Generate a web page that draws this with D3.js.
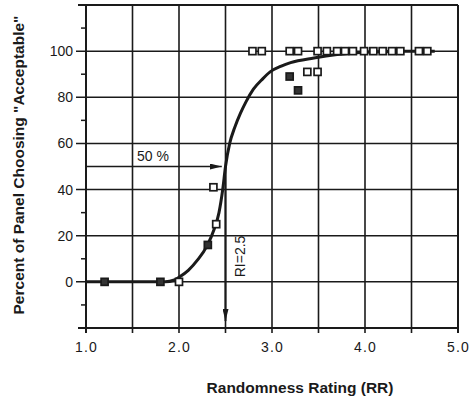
<!DOCTYPE html>
<html><head><meta charset="utf-8">
<script src="https://cdn.jsdelivr.net/npm/d3@7"></script>
<style>
html,body{margin:0;padding:0;background:#fff;}
svg text{font-family:"Liberation Sans",Arial,Helvetica,sans-serif;fill:#1a1a1a;}
</style></head>
<body>
<svg id="chart" width="470" height="404"></svg>
<script>
// ---- data ----
const xTicks = [1.0, 2.0, 3.0, 4.0, 5.0];
const xTickLabels = ["1.0", "2.0", "3.0", "4.0", "5.0"];
const xGrid = [1.0, 1.5, 2.0, 2.5, 3.0, 3.5, 4.0, 4.5, 5.0];
const yTicks = [0, 20, 40, 60, 80, 100];
const yGrid = [-20, 0, 20, 40, 60, 80, 100, 120];
const yMinor = [-10, 10, 30, 70, 90, 110];

// fitted curve
const curveX = [1.0, 1.85, 1.95, 2.0, 2.1, 2.2, 2.3, 2.38, 2.43, 2.47, 2.5, 2.545, 2.6, 2.66, 2.72, 2.8, 2.9, 2.98, 3.1, 3.2, 3.45, 3.7, 4.0, 4.4, 4.75];
const curveY = [0, 0, 0.8, 2, 5, 9.5, 15.5, 23, 30, 40, 50, 60, 67, 73, 78, 83.5, 88, 91, 93.5, 95, 97, 98.5, 99.5, 100, 100];

// panel observations
const filledX = [1.2, 1.8, 2.31, 3.19, 3.28];
const filledY = [0, 0, 16, 89, 83];
const openX = [2.0, 2.4, 2.37, 3.38, 3.49,
  2.79, 2.89, 3.19, 3.28, 3.49, 3.59, 3.70, 3.785, 3.87, 3.99, 4.09, 4.19, 4.29, 4.38, 4.58, 4.67];
const openY = [0, 25, 41, 91, 91,
  100, 100, 100, 100, 100, 100, 100, 100, 100, 100, 100, 100, 100, 100, 100, 100];

const halfLevel = 50;
const riValue = 2.5;

// ---- layout ----
const svg = d3.select("#chart");
const L = 86, R = 458, T = 5, B = 328;
const x = d3.scaleLinear().domain([1, 5]).range([L, R]);
const y = d3.scaleLinear().domain([-20, 120]).range([B, T]);
const ink = "#1a1a1a";

// grid (vertical)
svg.append("g").selectAll("line").data(xGrid).join("line")
  .attr("x1", d => x(d)).attr("x2", d => x(d))
  .attr("y1", y(120)).attr("y2", B + 5)
  .attr("stroke", ink).attr("stroke-width", d => (d === 1 || d === 5) ? 2 : 1.6);

// grid (horizontal)
svg.append("g").selectAll("line").data(yGrid).join("line")
  .attr("x1", d => (d === -20 || d === 120) ? L - 8 : L - 10).attr("x2", R)
  .attr("y1", d => y(d)).attr("y2", d => y(d))
  .attr("stroke", ink).attr("stroke-width", d => (d === -20 || d === 120) ? 2 : 1.5);

// minor ticks
svg.append("g").selectAll("line").data(yMinor).join("line")
  .attr("x1", L - 5).attr("x2", L)
  .attr("y1", d => y(d)).attr("y2", d => y(d))
  .attr("stroke", ink).attr("stroke-width", 1.5);

// axes labels via d3 axes
const yAxis = d3.axisLeft(y).tickValues(yTicks).tickSize(0).tickPadding(13).tickFormat(d3.format("d"));
const gy = svg.append("g").attr("transform", `translate(${L},0)`).call(yAxis);
gy.select(".domain").remove();
gy.selectAll("text").attr("font-size", 14).attr("fill", ink)
  .style("font-family", '"Liberation Sans",Arial,sans-serif');

const xAxis = d3.axisBottom(x).tickValues(xTicks).tickSize(0).tickPadding(14)
  .tickFormat((d, i) => xTickLabels[i]);
const gx = svg.append("g").attr("transform", `translate(0,${B})`).call(xAxis);
gx.select(".domain").remove();
gx.selectAll("text").attr("font-size", 14).attr("fill", ink).attr("letter-spacing", 1.2)
  .style("font-family", '"Liberation Sans",Arial,sans-serif');

// arrow marker
const defs = svg.append("defs");
defs.append("marker").attr("id", "arr").attr("viewBox", "0 0 12 6")
  .attr("refX", 12).attr("refY", 3).attr("markerWidth", 12).attr("markerHeight", 6)
  .attr("markerUnits", "userSpaceOnUse").attr("orient", "auto")
  .append("path").attr("d", "M0,0 L12,3 L0,6 Z").attr("fill", ink);

// 50% arrow
svg.append("line").attr("x1", L).attr("x2", x(2.46))
  .attr("y1", y(halfLevel)).attr("y2", y(halfLevel))
  .attr("stroke", ink).attr("stroke-width", 1.3).attr("marker-end", "url(#arr)");
svg.append("text").attr("x", x(1.72)).attr("y", y(halfLevel) - 6)
  .attr("text-anchor", "middle").attr("font-size", 14).text("50 %");

// RI arrow
svg.append("line").attr("x1", x(riValue)).attr("x2", x(riValue))
  .attr("y1", y(halfLevel)).attr("y2", y(-17))
  .attr("stroke", ink).attr("stroke-width", 2).attr("marker-end", "url(#arr)");
svg.append("text").attr("transform", `translate(${x(riValue) + 19},${y(11)}) rotate(-90)`)
  .attr("text-anchor", "middle").attr("font-size", 14).text("RI=2.5");

// curve
const curveData = curveX.map((v, i) => [v, curveY[i]]);
svg.append("path").datum(curveData)
  .attr("d", d3.line().x(d => x(d[0])).y(d => y(d[1])).curve(d3.curveMonotoneX))
  .attr("fill", "none").attr("stroke", ink).attr("stroke-width", 3);

// squares
const s = 7;
svg.append("g").selectAll("rect").data(openX.map((v, i) => [v, openY[i]])).join("rect")
  .attr("x", d => x(d[0]) - s / 2).attr("y", d => y(d[1]) - s / 2)
  .attr("width", s).attr("height", s)
  .attr("fill", "#fff").attr("stroke", ink).attr("stroke-width", 1.7);
svg.append("g").selectAll("rect").data(filledX.map((v, i) => [v, filledY[i]])).join("rect")
  .attr("x", d => x(d[0]) - s / 2).attr("y", d => y(d[1]) - s / 2)
  .attr("width", s).attr("height", s)
  .attr("fill", "#333").attr("stroke", ink).attr("stroke-width", 1.7);

// axis titles
svg.append("text").attr("transform", `translate(${24},${165}) rotate(-90)`)
  .attr("text-anchor", "middle").attr("font-size", 15.5).attr("font-weight", "bold")
  .text("Percent of Panel Choosing \"Acceptable\"");
svg.append("text").attr("x", 300).attr("y", 393)
  .attr("text-anchor", "middle").attr("font-size", 15.5).attr("font-weight", "bold")
  .text("Randomness Rating (RR)");
</script>
</body></html>
